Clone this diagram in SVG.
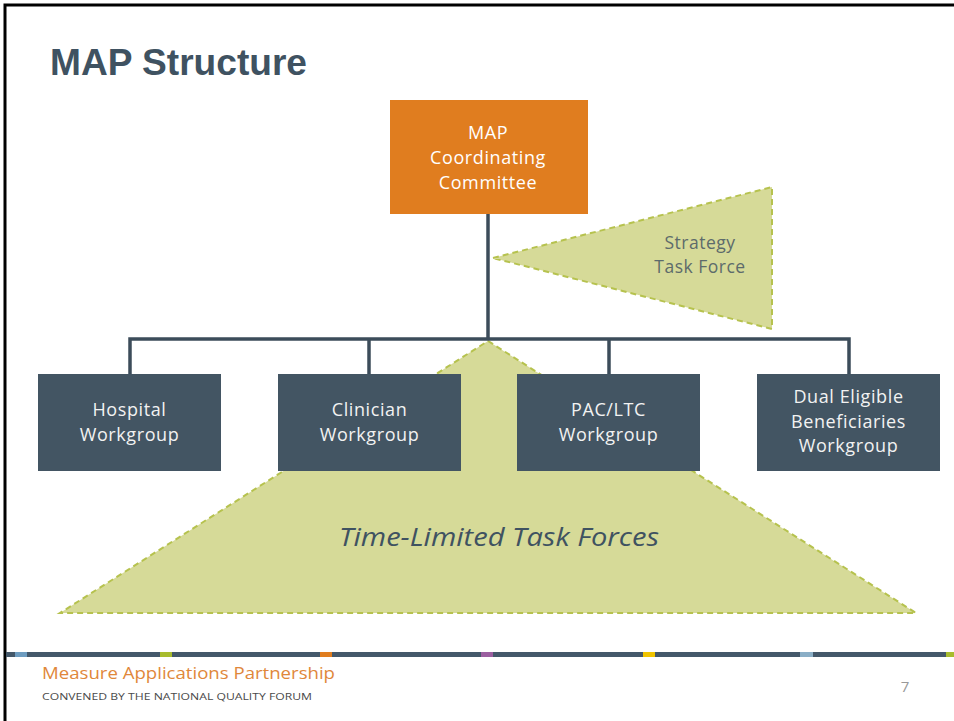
<svg xmlns="http://www.w3.org/2000/svg" width="954" height="721" viewBox="0 0 954 721">
<style>
.box{fill:#435563}
.boxtxt{font-family:"Open Sans","Liberation Sans",sans-serif;font-weight:500;font-size:18px;fill:#f2f2f2;text-anchor:middle;letter-spacing:0.6px}
.tf{fill:#d6da98;stroke:#b6c24e;stroke-width:2;stroke-dasharray:6 4}
.ln{stroke:#3c4c5a;stroke-width:3.5;fill:none}
</style>
<rect width="954" height="721" fill="#ffffff"/>
<path d="M5,721 V5 H954" fill="none" stroke="#000" stroke-width="3"/>
<text x="50" y="75" font-family="'Liberation Sans',Arial,sans-serif" font-weight="bold" font-size="37" fill="#3f5261" textLength="257" lengthAdjust="spacingAndGlyphs">MAP Structure</text>

<g id="time-limited-task-forces">
<polygon class="tf" points="488,341 916,613 60,613"/>
<text x="499" y="546" font-family="'Open Sans','Liberation Sans',sans-serif" font-style="italic" font-size="25" fill="#3f5261" text-anchor="middle" textLength="320" lengthAdjust="spacingAndGlyphs">Time-Limited Task Forces</text>
</g>

<g id="connectors">
<line class="ln" x1="488" y1="212" x2="488" y2="339"/>
<polyline class="ln" points="130,375 130,339 849,339 849,375"/>
<line class="ln" x1="369" y1="339" x2="369" y2="375"/>
<line class="ln" x1="609" y1="339" x2="609" y2="375"/>
</g>

<g id="strategy-task-force">
<polygon class="tf" points="493,258 772,187 772,329"/>
<text font-family="'Open Sans','Liberation Sans',sans-serif" font-size="17.5" fill="#5d6b6b" text-anchor="middle" letter-spacing="0.5"><tspan x="700" y="249">Strategy</tspan><tspan x="700" y="273">Task Force</tspan></text>
</g>

<g id="coordinating-committee">
<rect x="390" y="100" width="198" height="114" fill="#e07d1f"/>
<text class="boxtxt" style="fill:#fff"><tspan x="488" y="139">MAP</tspan><tspan x="488" y="164">Coordinating</tspan><tspan x="488" y="189">Committee</tspan></text>
</g>

<g id="hospital-workgroup">
<rect class="box" x="38" y="374" width="183" height="97"/>
<text class="boxtxt"><tspan x="129.5" y="416">Hospital</tspan><tspan x="129.5" y="441">Workgroup</tspan></text>
</g>

<g id="clinician-workgroup">
<rect class="box" x="278" y="374" width="183" height="97"/>
<text class="boxtxt"><tspan x="369.5" y="416">Clinician</tspan><tspan x="369.5" y="441">Workgroup</tspan></text>
</g>

<g id="pac-ltc-workgroup">
<rect class="box" x="517" y="374" width="183" height="97"/>
<text class="boxtxt"><tspan x="608.5" y="416">PAC/LTC</tspan><tspan x="608.5" y="441">Workgroup</tspan></text>
</g>

<g id="dual-eligible-workgroup">
<rect class="box" x="757" y="374" width="183" height="97"/>
<text class="boxtxt"><tspan x="848.5" y="403">Dual Eligible</tspan><tspan x="848.5" y="428">Beneficiaries</tspan><tspan x="848.5" y="452">Workgroup</tspan></text>
</g>

<g id="footer">
<rect x="6" y="652" width="948" height="5" fill="#44586a"/>
<rect x="15" y="652" width="12" height="5" fill="#6d9cc0"/>
<rect x="160" y="652" width="12" height="5" fill="#a8bc2e"/>
<rect x="320" y="652" width="12" height="5" fill="#e07d1f"/>
<rect x="481" y="652" width="12" height="5" fill="#9b5fa0"/>
<rect x="643" y="652" width="12" height="5" fill="#f0c400"/>
<rect x="800" y="652" width="13" height="5" fill="#8aaec6"/>
<rect x="946" y="652" width="8" height="5" fill="#a8bc2e"/>
<text x="42" y="679" font-family="'Open Sans','Liberation Sans',sans-serif" font-size="16" fill="#e0873a" textLength="293" lengthAdjust="spacingAndGlyphs">Measure Applications Partnership</text>
<text x="42" y="700" font-family="'Open Sans','Liberation Sans',sans-serif" font-size="9.5" fill="#4a4a4a" textLength="270" lengthAdjust="spacingAndGlyphs">CONVENED BY THE NATIONAL QUALITY FORUM</text>
<text x="905" y="692" font-family="'Open Sans','Liberation Sans',sans-serif" font-size="15" fill="#999999" text-anchor="middle">7</text>
</g>
</svg>
